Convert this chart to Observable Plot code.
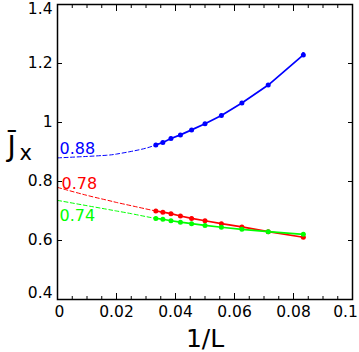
<!DOCTYPE html>
<html><head><meta charset="utf-8">
<script src="https://cdn.jsdelivr.net/npm/d3@7"></script>
<script src="https://cdn.jsdelivr.net/npm/@observablehq/plot@0.6"></script>
<style>body{margin:0;background:#fff} svg{display:block}</style>
</head><body><div id="chart"></div>
<script>
// System sizes L (x = 1/L)
const sizes = [30, 28, 26, 24, 22, 20, 18, 16, 14, 12];
const blueVals  = [0.924, 0.932, 0.946, 0.958, 0.975, 0.996, 1.024, 1.066, 1.127, 1.229];
const redVals   = [0.700, 0.696, 0.691, 0.683, 0.675, 0.667, 0.657, 0.646, 0.630, 0.611];
const greenVals = [0.675, 0.672, 0.667, 0.662, 0.657, 0.651, 0.645, 0.638, 0.630, 0.621];
const blueErr  = [0.004, 0.004, 0.004, 0.004, 0.004, 0.004, 0.004, 0.005, 0.005, 0.008];
const redErr   = [0.004, 0.004, 0.004, 0.004, 0.004, 0.004, 0.004, 0.004, 0.004, 0.006];
const greenErr = [0.004, 0.004, 0.004, 0.004, 0.004, 0.004, 0.004, 0.004, 0.004, 0.006];

// Extrapolation (dashed) curves
const fitX     = [0, 0.01, 0.0167, 0.02, 0.025, 0.03, 1/30];
const blueFit  = [0.880, 0.885, 0.889, 0.893, 0.902, 0.913, 0.924];
const redFit   = [0.780, 0.753, 0.737, 0.729, 0.718, 0.707, 0.700];
const greenFit = [0.736, 0.718, 0.706, 0.700, 0.691, 0.681, 0.675];

const extrapLabels = ["0.88", "0.78", "0.74"];
const extrapValues = [0.88, 0.78, 0.74];
const colors = ["#0000ff", "#ff0000", "#00ff00"];

const xMajor = [0, 0.02, 0.04, 0.06, 0.08, 0.1];
const xMajorLabels = ["0", "0.02", "0.04", "0.06", "0.08", "0.1"];
const xMinor = [0.005, 0.01, 0.015, 0.025, 0.03, 0.035, 0.045, 0.05, 0.055, 0.065, 0.07, 0.075, 0.085, 0.09, 0.095];
const yMajor = [0.4, 0.6, 0.8, 1.0, 1.2, 1.4];
const yMajorLabels = ["0.4", "0.6", "0.8", "1", "1.2", "1.4"];

const xLabelMap = new Map(xMajor.map((v, i) => [v, xMajorLabels[i]]));
const yLabelMap = new Map(yMajor.map((v, i) => [v, yMajorLabels[i]]));

const series = [blueVals, redVals, greenVals];
const errs = [blueErr, redErr, greenErr];
const fits = [blueFit, redFit, greenFit];

const pts = series.map((vals, s) => sizes.map((L, i) => ({x: 1 / L, y: vals[i], e: errs[s][i]})));
const fitPts = fits.map(f => fitX.map((x, i) => ({x, y: f[i]})));

const seriesMarks = [];
for (let s = 0; s < 3; s++) {
  seriesMarks.push(Plot.line(fitPts[s], {x: "x", y: "y", stroke: colors[s], strokeWidth: 1, strokeDasharray: "4,2.5", curve: "natural"}));
}
for (let s = 0; s < 3; s++) {
  seriesMarks.push(Plot.line(pts[s], {x: "x", y: "y", stroke: colors[s], strokeWidth: 1.7}));
  seriesMarks.push(Plot.ruleX(pts[s], {x: "x", y1: d => d.y - d.e, y2: d => d.y + d.e, stroke: colors[s], strokeWidth: 2.2}));
  seriesMarks.push(Plot.dot(pts[s], {x: "x", y: "y", r: 2.5, fill: colors[s], stroke: "none"}));
}

const labelOffsets = [{dx: 2, dy: -9}, {dx: 4, dy: -4}, {dx: 2, dy: 17}];
const labelMarks = extrapLabels.map((t, i) =>
  Plot.text([t], {x: () => 0, y: () => extrapValues[i], text: d => d, fill: colors[i], textAnchor: "start",
    dx: labelOffsets[i].dx, dy: labelOffsets[i].dy, fontSize: 16}));

const fmtX = d => xLabelMap.get(d);
const fmtY = d => yLabelMap.get(d);
const FS = 15.5;

const chart = Plot.plot({
  width: 359, height: 352,
  marginLeft: 57, marginRight: 7, marginTop: 4, marginBottom: 53,
  x: {domain: [0, 0.1]},
  y: {domain: [0.4, 1.4]},
  style: {fontFamily: "'DejaVu Sans', sans-serif", fontSize: "15.5px", color: "#000", background: "#fff", overflow: "visible"},
  marks: [
    // tick labels (end labels nudged inward like the original)
    Plot.axisX({ticks: xMajor.slice(1, -1), tickSize: 0, tickPadding: 6, tickFormat: fmtX, label: null, fontSize: FS}),
    Plot.axisX({ticks: xMajor.slice(0, 1), tickSize: 0, tickPadding: 6, tickFormat: fmtX, label: null, fontSize: FS, dx: 2}),
    Plot.axisX({ticks: xMajor.slice(-1), tickSize: 0, tickPadding: 6, tickFormat: fmtX, label: null, fontSize: FS, dx: -7}),
    Plot.axisY({ticks: yMajor.slice(1, -1), tickSize: 0, tickPadding: 5, tickFormat: fmtY, label: null, fontSize: FS}),
    Plot.axisY({ticks: yMajor.slice(0, 1), tickSize: 0, tickPadding: 5, tickFormat: fmtY, label: null, fontSize: FS, dy: -6}),
    Plot.axisY({ticks: yMajor.slice(-1), tickSize: 0, tickPadding: 5, tickFormat: fmtY, label: null, fontSize: FS, dy: 4.5}),
    // inward ticks
    Plot.axisX({anchor: "bottom", ticks: xMajor, tickSize: -6, fill: "none", label: null}),
    Plot.axisX({anchor: "bottom", ticks: xMinor, tickSize: -3, fill: "none", label: null}),
    Plot.axisX({anchor: "top", ticks: xMajor, tickSize: -6, fill: "none", label: null}),
    Plot.axisX({anchor: "top", ticks: xMinor, tickSize: -3, fill: "none", label: null}),
    Plot.axisY({anchor: "left", ticks: yMajor, tickSize: -5, fill: "none", label: null}),
    Plot.axisY({anchor: "right", ticks: yMajor, tickSize: -5, fill: "none", label: null}),
    ...seriesMarks,
    ...labelMarks,
    Plot.frame({stroke: "#000", strokeWidth: 1.5}),
    // axis titles
    Plot.text(["1/L"], {frameAnchor: "bottom", dy: 39, text: d => d, fontSize: 25, lineAnchor: "middle"}),
    Plot.text(["J\u0304"], {frameAnchor: "left", dx: -50, dy: -5, text: d => d, fontSize: 28, lineAnchor: "middle"}),
    Plot.text(["x"], {frameAnchor: "left", dx: -38, dy: 1, text: d => d, fontSize: 21, lineAnchor: "middle"})
  ]
});
document.getElementById("chart").appendChild(chart);
</script>
</body></html>
